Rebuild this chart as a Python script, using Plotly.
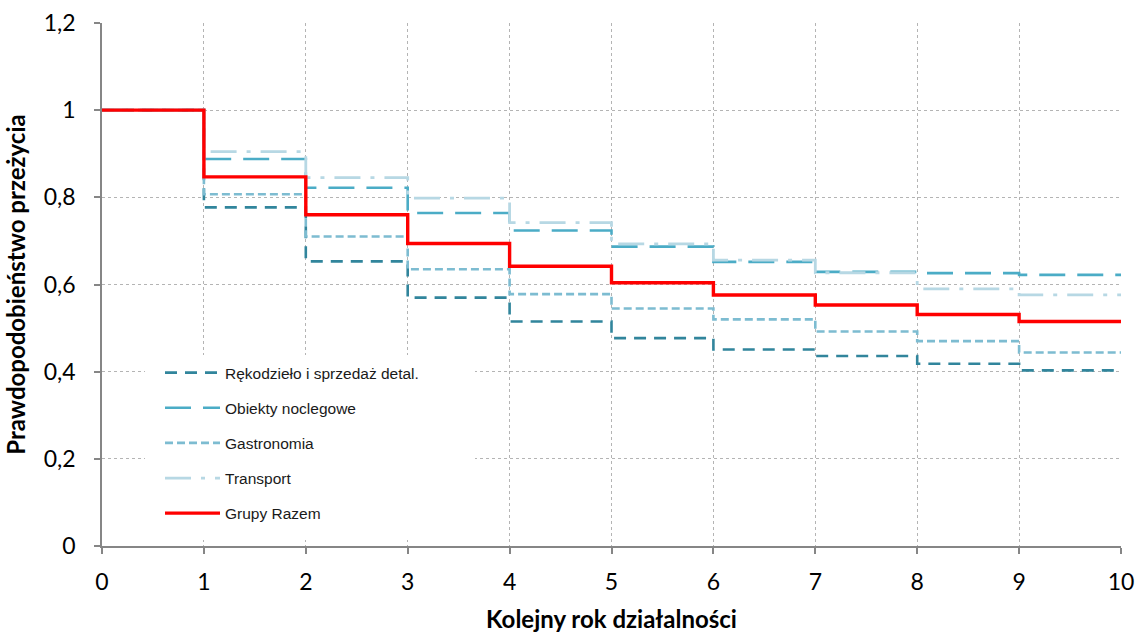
import plotly.graph_objects as go

# Data (survival probability per year interval)
years = list(range(0, 11))
series_names = ["Rękodzieło i sprzedaż detal.", "Obiekty noclegowe", "Gastronomia", "Transport", "Grupy Razem"]
rekodzielo = [1.0, 0.777, 0.653, 0.570, 0.515, 0.477, 0.451, 0.436, 0.418, 0.403]
obiekty = [1.0, 0.888, 0.822, 0.764, 0.724, 0.687, 0.652, 0.629, 0.626, 0.622]
gastronomia = [1.0, 0.807, 0.710, 0.635, 0.578, 0.545, 0.520, 0.492, 0.470, 0.444]
transport = [1.0, 0.905, 0.845, 0.798, 0.742, 0.693, 0.656, 0.627, 0.590, 0.576]
razem = [1.0, 0.847, 0.760, 0.694, 0.642, 0.604, 0.576, 0.553, 0.531, 0.515]
y_ticks = [0, 0.2, 0.4, 0.6, 0.8, 1.0, 1.2]

all_series = [rekodzielo, obiekty, gastronomia, transport, razem]
colors = ["#31859C", "#4BACC6", "#7DBCD1", "#B7D8E4", "#FF0000"]
dashes = ["12px,8px", "26px,12px", "8px,4px", "26px,10px,4px,10px", "solid"]
widths = [2.6, 2.6, 2.6, 2.8, 3.4]

fig = go.Figure()
for i, (name, vals) in enumerate(zip(series_names, all_series)):
    yv = vals + [vals[-1]]
    fig.add_trace(go.Scatter(
        x=years, y=yv, name=name, mode="lines", line_shape="hv",
        line=dict(color=colors[i], dash=dashes[i], width=widths[i]),
        legendgroup=f"g{i}",
    ))

L, R, T, B = 102, 17, 23, 87
W, H = 1138, 633
pw = W - L - R
ph = H - T - B

def px_x(p):
    return (p - L) / pw

def px_y(p):
    return (H - B - p) / ph

fig.add_shape(type="rect", xref="paper", yref="paper",
              x0=px_x(145), x1=px_x(475), y0=px_y(540), y1=px_y(355),
              fillcolor="white", line=dict(width=0), layer="above")

axis_common = dict(
    showline=True, linecolor="#868686", linewidth=1.5,
    ticks="outside", ticklen=6, tickcolor="#868686", tickwidth=1.5,
    showgrid=True, gridcolor="#B4B4B4", griddash="dot", gridwidth=1,
    zeroline=False, automargin=False,
    tickfont=dict(family="Lato", size=23, color="#000000"),
)

fig.update_layout(
    width=W, height=H,
    margin=dict(l=L, r=R, t=T, b=B, autoexpand=False),
    paper_bgcolor="white", plot_bgcolor="white",
    separators=", ",
    showlegend=True,
    legend=dict(
        x=px_x(160), y=px_y(356), xanchor="left", yanchor="top",
        bgcolor="rgba(0,0,0,0)",
        font=dict(family="Liberation Sans", size=15.5, color="#1a1a1a"),
        tracegroupgap=12, itemwidth=55,
    ),
    xaxis=dict(range=[0, 10], tickvals=years, ticklabelstandoff=9,
               title=dict(text="Kolejny rok działalności", standoff=18,
                          font=dict(family="Lato", size=24, color="#000000", weight="bold")),
               **axis_common),
    yaxis=dict(range=[0, 1.2], tickvals=y_ticks, ticklabelstandoff=14,
               title=dict(text="Prawdopodobieństwo przeżycia", standoff=11,
                          font=dict(family="Lato", size=24, color="#000000", weight="bold")),
               **axis_common),
)

fig.write_html("out.html", config={"displayModeBar": False},
               post_script="document.body.style.margin='0';")
